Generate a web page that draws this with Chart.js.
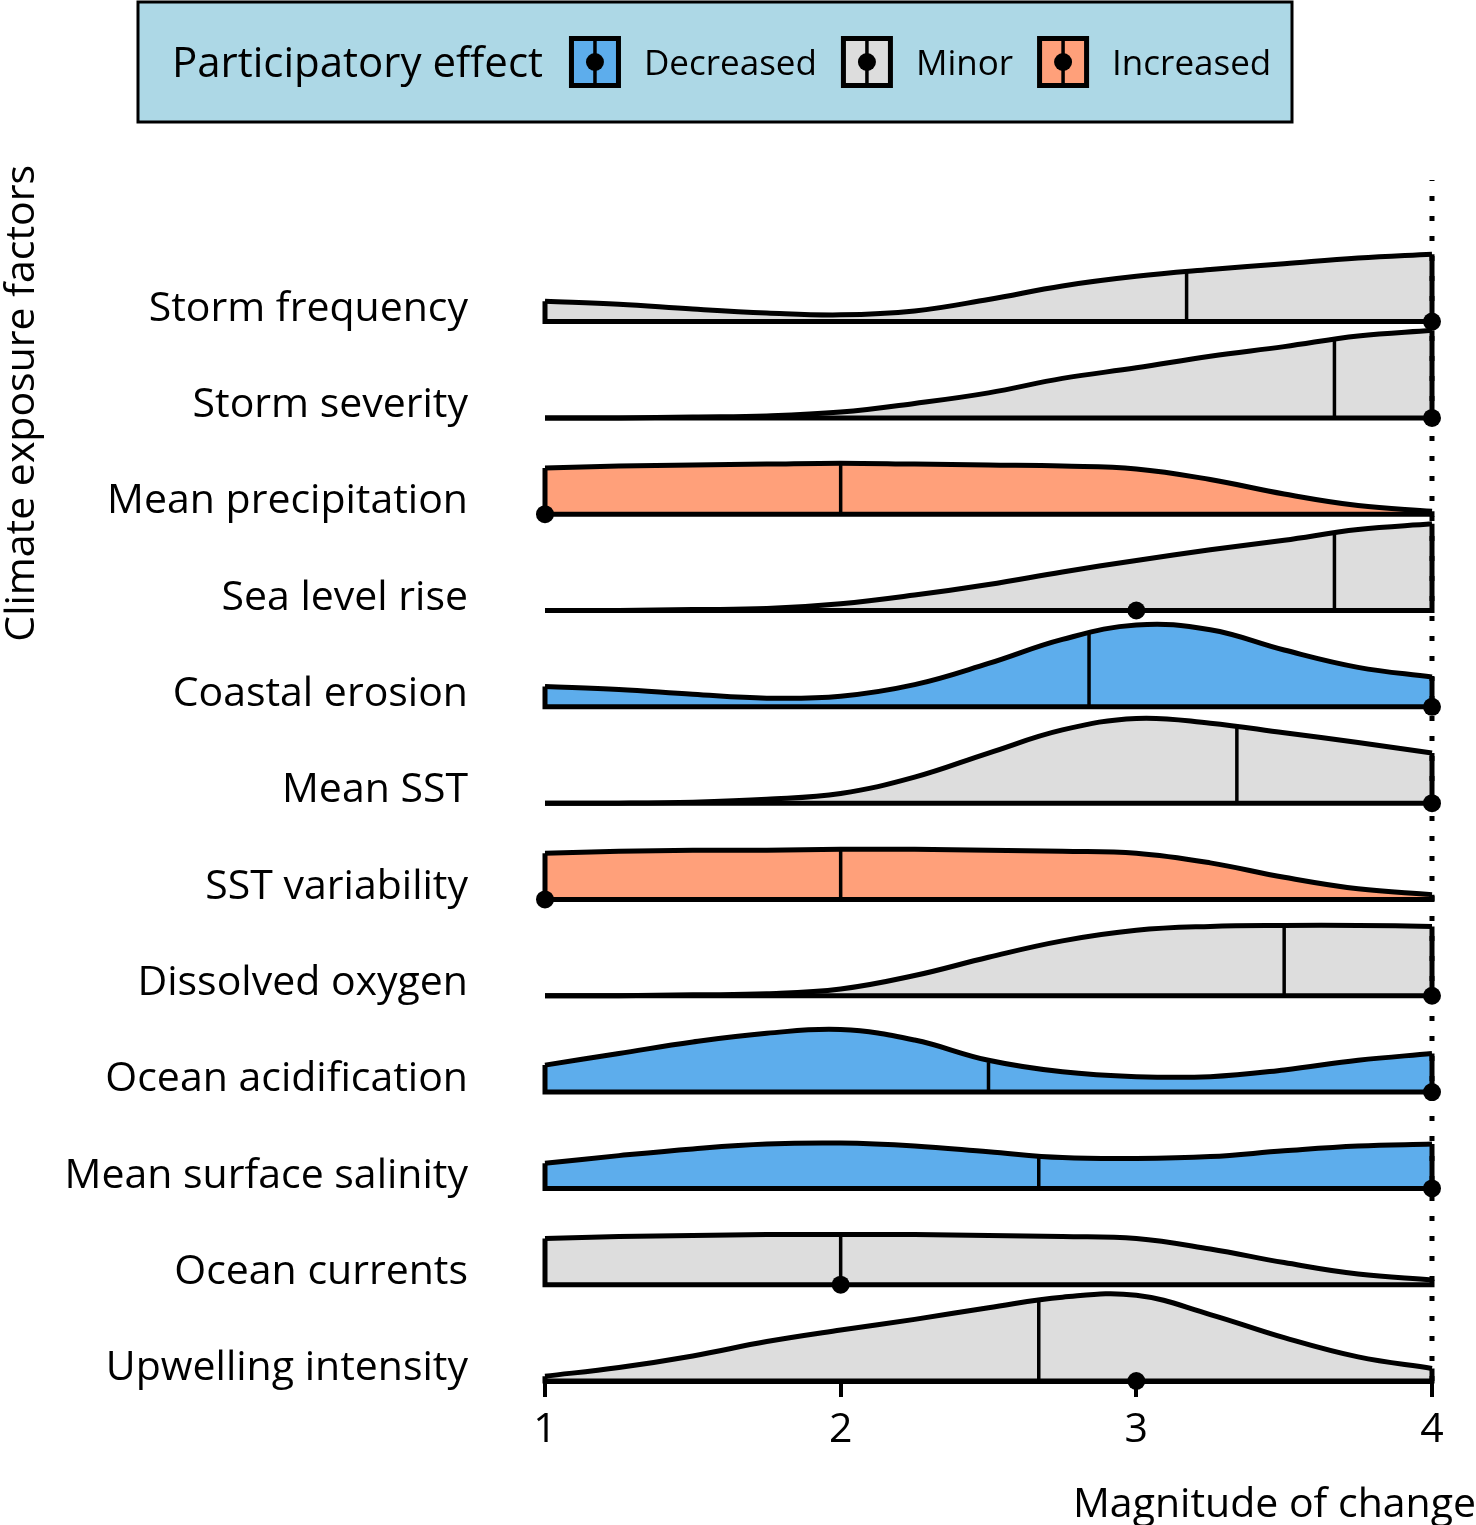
<!DOCTYPE html>
<html>
<head>
<meta charset="utf-8">
<script src="https://cdn.jsdelivr.net/npm/chart.js@4.4.1/dist/chart.umd.min.js"></script>
<style>
  html, body { margin: 0; padding: 0; background: #fff; }
  #wrap { width: 1476px; height: 1525px; }
</style>
</head>
<body>
<div id="wrap"><canvas id="ridgeChart"></canvas></div>
<script>
// climate exposure factors, top to bottom
const factors = ['Storm frequency', 'Storm severity', 'Mean precipitation', 'Sea level rise',
  'Coastal erosion', 'Mean SST', 'SST variability', 'Dissolved oxygen',
  'Ocean acidification', 'Mean surface salinity', 'Ocean currents', 'Upwelling intensity'];

const effects = ['Minor', 'Minor', 'Increased', 'Minor', 'Decreased', 'Minor',
  'Increased', 'Minor', 'Decreased', 'Decreased', 'Minor', 'Minor'];

const effectNames = ['Decreased', 'Minor', 'Increased'];

// x positions where the density curves were read
const samplePoints = [1, 1.25, 1.5, 1.75, 2, 2.25, 2.5, 2.75, 3, 3.25, 3.5, 3.75, 4];

// density height (in row heights) at each sample point
const stormFrequency = [0.21, 0.18, 0.13, 0.09, 0.07, 0.11, 0.23, 0.37, 0.47, 0.54, 0.60, 0.66, 0.70];
const stormSeverity = [0, 0, 0.01, 0.02, 0.06, 0.15, 0.26, 0.41, 0.52, 0.64, 0.74, 0.85, 0.91];
const meanPrecipitation = [0.48, 0.50, 0.51, 0.52, 0.53, 0.52, 0.51, 0.50, 0.47, 0.36, 0.21, 0.09, 0.03];
const seaLevelRise = [0, 0, 0.01, 0.02, 0.07, 0.16, 0.27, 0.40, 0.52, 0.63, 0.73, 0.84, 0.90];
const coastalErosion = [0.21, 0.18, 0.13, 0.09, 0.11, 0.23, 0.45, 0.70, 0.85, 0.80, 0.59, 0.41, 0.31];
const meanSST = [0, 0, 0.01, 0.04, 0.10, 0.27, 0.52, 0.76, 0.88, 0.83, 0.73, 0.63, 0.52];
const sstVariability = [0.48, 0.50, 0.51, 0.51, 0.52, 0.52, 0.51, 0.50, 0.48, 0.38, 0.23, 0.11, 0.05];
const dissolvedOxygen = [0, 0, 0.01, 0.02, 0.07, 0.21, 0.40, 0.57, 0.68, 0.72, 0.73, 0.73, 0.72];
const oceanAcidification = [0.28, 0.40, 0.52, 0.61, 0.65, 0.54, 0.33, 0.21, 0.16, 0.16, 0.23, 0.33, 0.40];
const meanSalinity = [0.26, 0.34, 0.41, 0.46, 0.47, 0.44, 0.38, 0.32, 0.31, 0.33, 0.39, 0.44, 0.46];
const oceanCurrents = [0.48, 0.50, 0.51, 0.52, 0.52, 0.52, 0.51, 0.50, 0.48, 0.37, 0.23, 0.11, 0.05];
const upwelling = [0.05, 0.14, 0.26, 0.41, 0.53, 0.64, 0.76, 0.87, 0.89, 0.69, 0.45, 0.25, 0.13];

const densities = [stormFrequency, stormSeverity, meanPrecipitation, seaLevelRise, coastalErosion, meanSST,
  sstVariability, dissolvedOxygen, oceanAcidification, meanSalinity, oceanCurrents, upwelling];

// medians and the height of the median line
const medians = [3.17, 3.67, 2, 3.67, 2.84, 3.34, 2, 3.5, 2.5, 2.67, 2, 2.67];
const medianTops = [0.52, 0.81, 0.53, 0.81, 0.78, 0.80, 0.52, 0.73, 0.31, 0.32, 0.52, 0.83];

// black dots on the baseline
const dots = [4, 4, 1, 3, 4, 4, 1, 4, 4, 4, 2, 3];

const xTicks = [1, 2, 3, 4];

const colors = { Decreased: '#5DADEC', Minor: '#DDDDDD', Increased: '#FFA07A' };
const FONT = "'Open Sans', sans-serif";
const yTop = 12.47;

Chart.defaults.font.family = FONT;
Chart.defaults.color = '#000';

const rowCount = factors.length;
const datasets = [];

factors.forEach((name, i) => {
  const base = rowCount - 1 - i;
  const dens = densities[i];
  // density curve
  datasets.push({
    label: name,
    data: samplePoints.map((x, k) => ({ x: x, y: base + dens[k] })),
    showLine: true,
    borderColor: '#000',
    borderWidth: 5,
    backgroundColor: colors[effects[i]],
    fill: { value: base },
    pointRadius: 0,
    tension: 0.4,
    order: 4,
    clip: false
  });
  // left edge, baseline, right edge
  datasets.push({
    data: [{ x: 1, y: base + dens[0] }, { x: 1, y: base }, { x: 4, y: base }, { x: 4, y: base + dens[dens.length - 1] }],
    showLine: true,
    borderColor: '#000',
    borderWidth: 5,
    pointRadius: 0,
    fill: false,
    order: 3,
    clip: false
  });
  // median line
  datasets.push({
    data: [{ x: medians[i], y: base }, { x: medians[i], y: base + medianTops[i] }],
    showLine: true,
    borderColor: '#000',
    borderWidth: 3.5,
    pointRadius: 0,
    fill: false,
    order: 2,
    clip: false
  });
});

// dotted reference line at the maximum
datasets.push({
  data: [{ x: 4, y: 0 }, { x: 4, y: yTop }],
  showLine: true,
  borderColor: '#000',
  borderWidth: 5,
  borderDash: [5, 15],
  pointRadius: 0,
  fill: false,
  order: 1,
  clip: false
});

datasets.push({
  data: dots.map((d, i) => ({ x: d, y: rowCount - 1 - i })),
  showLine: false,
  pointRadius: 9,
  pointBackgroundColor: '#000',
  pointBorderWidth: 0,
  order: 0,
  clip: false
});

// legend box and axis titles
const decorPlugin = {
  id: 'decor',
  afterDraw(chart) {
    const ctx = chart.ctx;
    ctx.save();
    ctx.fillStyle = '#ADD8E6';
    ctx.fillRect(138, 2, 1154, 120);
    ctx.strokeStyle = '#000';
    ctx.lineWidth = 3;
    ctx.strokeRect(138, 2, 1154, 120);

    ctx.fillStyle = '#000';
    ctx.textBaseline = 'alphabetic';
    ctx.textAlign = 'left';
    let x = 172;
    ctx.font = '42px ' + FONT;
    ctx.fillText('Participatory effect', x, 77);
    x += ctx.measureText('Participatory effect').width + 26;
    ctx.font = '35px ' + FONT;
    effectNames.forEach(name => {
      const sy = 36, sz = 52;
      ctx.fillStyle = colors[name];
      ctx.fillRect(x, sy, sz, sz);
      ctx.lineWidth = 5;
      ctx.strokeStyle = '#000';
      ctx.strokeRect(x + 2.5, sy + 2.5, sz - 5, sz - 5);
      ctx.lineWidth = 3.5;
      ctx.beginPath();
      ctx.moveTo(x + sz / 2, sy);
      ctx.lineTo(x + sz / 2, sy + sz);
      ctx.stroke();
      ctx.fillStyle = '#000';
      ctx.beginPath();
      ctx.arc(x + sz / 2, sy + sz / 2, 9, 0, Math.PI * 2);
      ctx.fill();
      x += sz + 23;
      ctx.fillText(name, x, 75);
      x += ctx.measureText(name).width + 24;
    });

    ctx.font = '41px ' + FONT;
    // x axis title
    ctx.textAlign = 'right';
    ctx.fillText('Magnitude of change', 1476, 1517);

    // y axis title
    ctx.translate(34, 165);
    ctx.rotate(-Math.PI / 2);
    ctx.textAlign = 'right';
    ctx.fillText('Climate exposure factors', 0, 0);
    ctx.restore();
  }
};

new Chart(document.getElementById('ridgeChart'), {
  type: 'scatter',
  data: { datasets: datasets },
  plugins: [decorPlugin],
  options: {
    responsive: true,
    maintainAspectRatio: false,
    animation: false,
    events: [],
    layout: { padding: { top: 180, right: 44, left: 0, bottom: 0 } },
    plugins: {
      legend: { display: false },
      tooltip: { enabled: false }
    },
    scales: {
      x: {
        type: 'linear',
        min: 1,
        max: 4,
        afterBuildTicks: scale => { scale.ticks = xTicks.map(v => ({ value: v })); },
        afterFit: scale => { scale.height = 144; },
        ticks: { font: { size: 41 }, color: '#000', padding: 9 },
        grid: { drawOnChartArea: false, drawTicks: true, tickLength: 16, lineWidth: 4, color: '#000' },
        border: { display: true, width: 5, color: '#000' }
      },
      y: {
        type: 'linear',
        min: 0,
        max: yTop,
        afterBuildTicks: scale => { scale.ticks = factors.map((f, i) => ({ value: rowCount - 1 - i + 0.13 })); },
        afterFit: scale => { scale.width = 545; },
        ticks: {
          autoSkip: false,
          font: { size: 41 },
          color: '#000',
          padding: 77,
          callback: (v, idx) => factors[idx]
        },
        grid: { display: false, drawTicks: false },
        border: { display: false }
      }
    }
  }
});
</script>
</body>
</html>
